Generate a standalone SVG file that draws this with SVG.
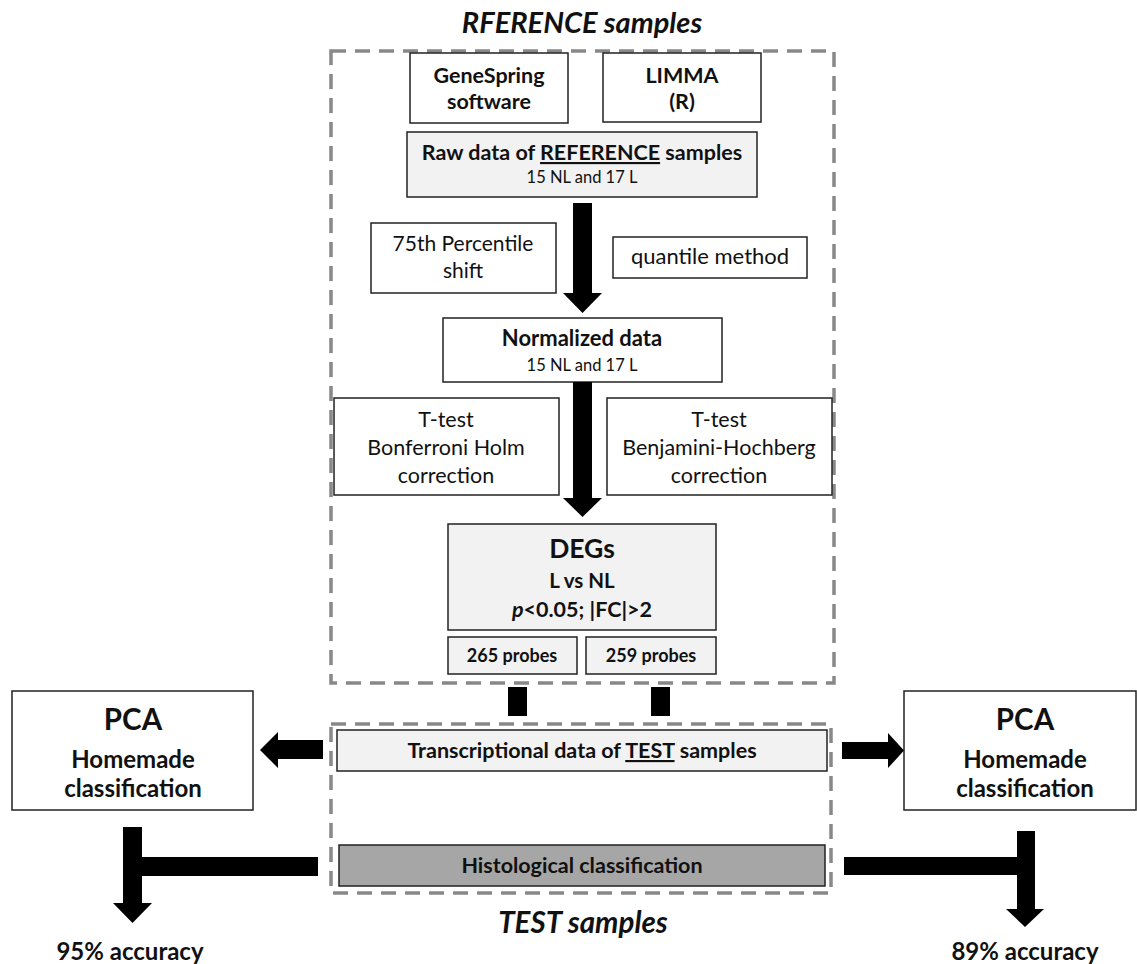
<svg xmlns="http://www.w3.org/2000/svg" width="1137" height="964" viewBox="0 0 1137 964">
<style>
text{font-family:Lato,"Open Sans","Liberation Sans",sans-serif;fill:#111;text-anchor:middle}
.b{font-weight:bold}
.bi{font-weight:bold;font-style:italic}
.box{fill:#fff;stroke:#222;stroke-width:1.5}
.grey{fill:#f2f2f2;stroke:#222;stroke-width:1.5}
.dark{fill:#a6a6a6;stroke:#222;stroke-width:1.5}
.dash{fill:none;stroke:#888;stroke-width:3.5;stroke-dasharray:15 9}
.arr{fill:#000}
</style>
<rect width="1137" height="964" fill="#fff"/>
<g id="reference-group">
<rect class="dash" x="331" y="51" width="503" height="632"/>
<text class="bi" x="582" y="33" font-size="29">RFERENCE samples</text>
</g>
<g id="test-group">
<rect class="dash" x="331" y="724" width="500" height="169"/>
<text class="bi" x="583" y="933" font-size="29.5">TEST samples</text>
</g>
<g id="genespring">
<rect class="box" x="410" y="53" width="158" height="70"/>
<text class="b" x="489" y="83" font-size="21.5">GeneSpring</text>
<text class="b" x="489" y="109" font-size="21.5">software</text>
</g>
<g id="limma">
<rect class="box" x="603" y="53" width="158" height="69"/>
<text class="b" x="682" y="83" font-size="21.5">LIMMA</text>
<text class="b" x="682" y="109" font-size="21.5">(R)</text>
</g>
<g id="rawdata">
<rect class="grey" x="407" y="132" width="350" height="65"/>
<text class="b" x="582" y="160" font-size="21.5">Raw data of <tspan text-decoration="underline">REFERENCE</tspan>  samples</text>
<text x="582" y="183" font-size="16.5">15 NL and 17 L</text>
</g>
<g id="percentile">
<rect class="box" x="371" y="223" width="185" height="70"/>
<text x="463" y="251" font-size="21">75th Percentile</text>
<text x="463" y="278" font-size="21">shift</text>
</g>
<g id="quantile">
<rect class="box" x="613" y="237" width="194" height="41"/>
<text x="710" y="264" font-size="22">quantile method</text>
</g>
<g id="normalized">
<rect class="box" x="443" y="318" width="279" height="64"/>
<text class="b" x="582" y="346" font-size="22">Normalized data</text>
<text x="582" y="371" font-size="16.5">15 NL and 17 L</text>
</g>
<g id="bonferroni">
<rect class="box" x="334" y="398" width="225" height="97"/>
<text x="446" y="427" font-size="21.5">T-test</text>
<text x="446" y="455" font-size="21.5">Bonferroni  Holm</text>
<text x="446" y="483" font-size="21.5">correction</text>
</g>
<g id="benjamini">
<rect class="box" x="607" y="398" width="225" height="97"/>
<text x="719" y="427" font-size="21.5">T-test</text>
<text x="719" y="455" font-size="21.5">Benjamini-Hochberg</text>
<text x="719" y="483" font-size="21.5">correction</text>
</g>
<g id="degs">
<rect class="grey" x="448" y="524" width="268" height="106"/>
<text class="b" x="582" y="558" font-size="26.5">DEGs</text>
<text class="b" x="582" y="588" font-size="20.5">L vs NL</text>
<text class="b" x="582" y="617" font-size="21.5"><tspan font-style="italic">p</tspan>&lt;0.05; |FC|&gt;2</text>
</g>
<g id="probes265">
<rect class="grey" x="448" y="637" width="129" height="37"/>
<text class="b" x="512" y="662" font-size="18">265 probes</text>
</g>
<g id="probes259">
<rect class="grey" x="586" y="637" width="130" height="37"/>
<text class="b" x="651" y="662" font-size="18">259 probes</text>
</g>
<g id="transcriptional">
<rect class="grey" x="337" y="730" width="490" height="41"/>
<text class="b" x="582" y="758" font-size="21.5">Transcriptional data of <tspan text-decoration="underline">TEST</tspan> samples</text>
</g>
<g id="histological">
<rect class="dark" x="339" y="845" width="486" height="41"/>
<text class="b" x="582" y="873" font-size="21.5">Histological classification</text>
</g>
<g id="pca-left">
<rect class="box" x="12" y="691" width="241" height="119"/>
<text class="b" x="133" y="730" font-size="29.5">PCA</text>
<text class="b" x="133" y="768" font-size="24">Homemade</text>
<text class="b" x="133" y="797" font-size="24">classification</text>
</g>
<g id="pca-right">
<rect class="box" x="904" y="691" width="232" height="119"/>
<text class="b" x="1025" y="730" font-size="29.5">PCA</text>
<text class="b" x="1025" y="768" font-size="24">Homemade</text>
<text class="b" x="1025" y="797" font-size="24">classification</text>
</g>
<g id="acc-left">
<text class="b" x="130" y="960" font-size="24">95% accuracy</text>
</g>
<g id="acc-right">
<text class="b" x="1025" y="960" font-size="24">89% accuracy</text>
</g>
<g id="connectors">
<polygon class="arr" points="573,203 592,203 592,293 602,293 582.5,313 563,293 573,293"/>
<polygon class="arr" points="573,382 592,382 592,498 602,498 582.5,517 563,498 573,498"/>
<rect class="arr" x="508" y="687" width="19" height="29"/>
<rect class="arr" x="651" y="687" width="19" height="29"/>
<polygon class="arr" points="323,740 278,740 278,732 260,750 278,768 278,759 323,759"/>
<polygon class="arr" points="842,742 888,742 888,733 904,750.5 888,768 888,759 842,759"/>
<polygon class="arr" points="318,857 142,857 142,827 123,827 123,903 113,903 132.5,923 152,903 142,903 142,876 318,876"/>
<polygon class="arr" points="844,857 1017,857 1017,831 1035,831 1035,909 1044,909 1025,927 1006,909 1017,909 1017,875 844,875"/>
</g>
</svg>
